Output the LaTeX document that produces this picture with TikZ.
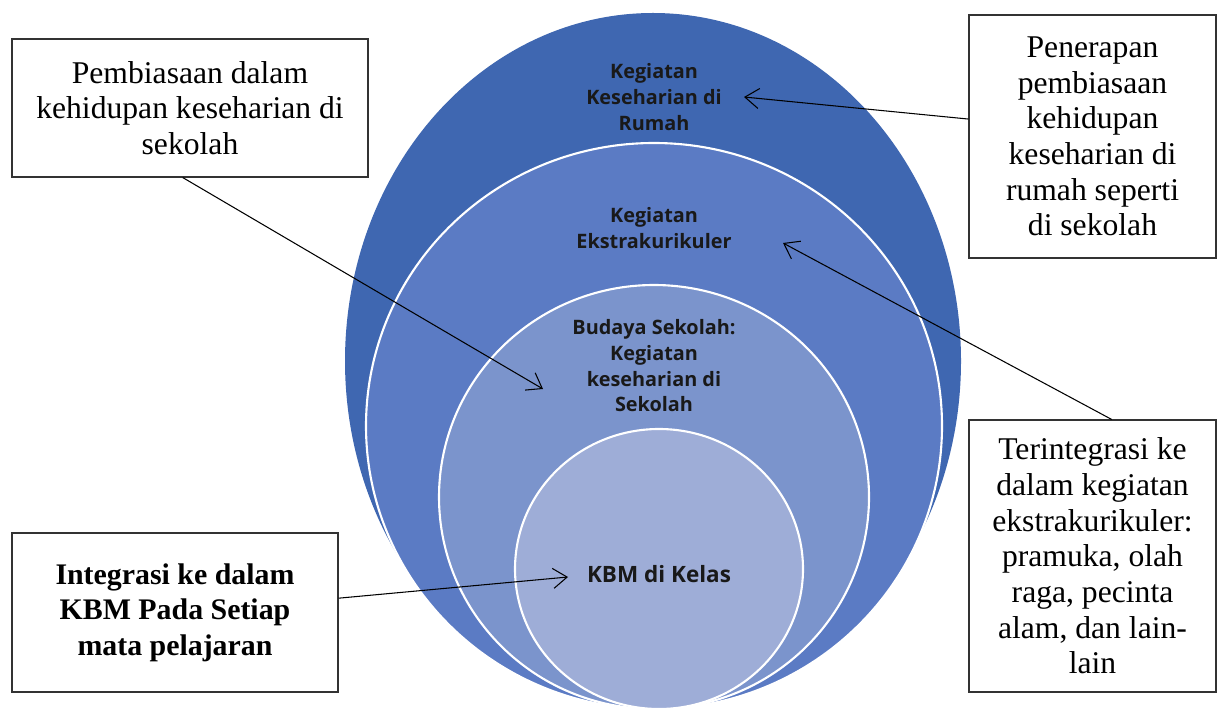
\documentclass[tikz,border=0pt]{standalone}
\usepackage{fontspec}
\setmainfont{Liberation Serif}
\newfontfamily\ringfont{Open Sans}[BoldFont={Open Sans Bold}]
\usetikzlibrary{arrows.meta}

\definecolor{ringA}{HTML}{3F67B1}
\definecolor{ringB}{HTML}{5B7BC4}
\definecolor{ringC}{HTML}{7B94CC}
\definecolor{ringD}{HTML}{9EADD7}

\tikzset{
  ring/.style={draw=white, line width=1.2pt},
  ringtext/.style={align=center, font=\ringfont\bfseries\fontsize{11.3}{14.6}\selectfont, text=black!90},
  notebox/.style={draw=black!80, line width=0.6pt, fill=white, align=center, font=\fontsize{18}{20.3}\selectfont},
  pointer/.style={draw=black, line width=0.6pt, -{Straight Barb[length=2.8mm, width=4mm, line width=0.6pt]}}
}

\begin{document}
\begin{tikzpicture}[x=0.2mm, y=-0.2mm]
		\useasboundingbox (0,0) rectangle (1223,713);

		% Lingkaran
		\fill[ringA] (653,361) ellipse [x radius=308, y radius=348];
		\filldraw[ring, fill=ringB] (654,426) ellipse [x radius=288, y radius=283];
		\filldraw[ring, fill=ringC] (654,497) ellipse [x radius=215, y radius=212];
		\filldraw[ring, fill=ringD] (659,569) ellipse [x radius=144, y radius=140];

		% Teks di lingkaran
		\node[ringtext] (rumah) at (654,97) {Kegiatan\\Keseharian di\\Rumah};
		\node[ringtext] (ekstra) at (654,228) {Kegiatan\\Ekstrakurikuler};
		\node[ringtext] (budaya) at (654,366) {Budaya Sekolah:\\Kegiatan\\keseharian di\\Sekolah};
		\node[ringtext, font=\ringfont\bfseries\fontsize{12.8}{15}\selectfont] (kbm) at (659,574) {KBM di Kelas};

		% Kotak
		\node[notebox, minimum width=71.2mm, minimum height=27.6mm] (sekolah) at (190,108)
		{Pembiasaan dalam\\kehidupan keseharian di\\sekolah};
		\node[notebox, minimum width=49.4mm, minimum height=48.6mm] (rumahbox) at (1092.5,136.5)
		{Penerapan\\pembiasaan\\kehidupan\\keseharian di\\rumah seperti\\di sekolah};
		\node[notebox, minimum width=49.4mm, minimum height=54.4mm] (ekstrabox) at (1092.5,556)
		{Terintegrasi ke\\dalam kegiatan\\ekstrakurikuler:\\pramuka, olah\\raga, pecinta\\alam, dan lain-\\lain};
		\node[notebox, font=\bfseries\fontsize{17}{20.3}\selectfont, minimum width=65.2mm, minimum height=31.8mm] (kbmbox) at (175,612.5)
		{Integrasi ke dalam\\KBM Pada Setiap\\mata pelajaran};

		% Ujung panah
		\coordinate (rumahtip) at (744,97);
		\coordinate (ekstratip) at (783,243);
		\coordinate (budayatip) at (543,389);
		\coordinate (kbmtip) at (568,577);

		% Panah
		\draw[pointer] (rumahbox.172.4) -- (rumahtip);
		\draw[pointer] (ekstrabox.82.7) -- (ekstratip);
		\draw[pointer] (sekolah.264.2) -- (budayatip);
		\draw[pointer] (kbmbox.5.1) -- (kbmtip);

	\end{tikzpicture}
\end{document}
